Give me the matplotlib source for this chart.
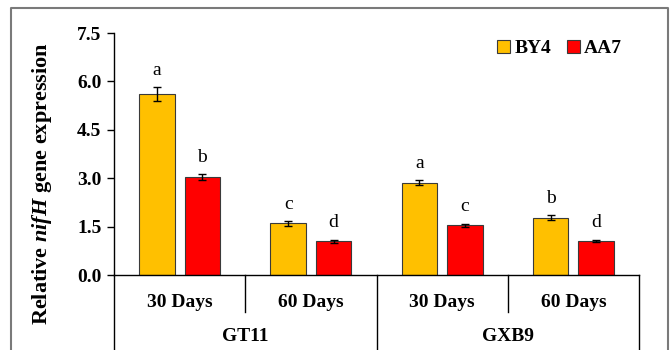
import matplotlib.pyplot as plt
import numpy as np

# --- Data
groups = ["GT11", "GXB9"]
days = ["30 Days", "60 Days", "30 Days", "60 Days"]
strains = ["BY4", "AA7"]
by4 = [5.60, 1.60, 2.86, 1.78]
by4_err = [0.22, 0.07, 0.08, 0.08]
aa7 = [3.03, 1.04, 1.54, 1.05]
aa7_err = [0.10, 0.05, 0.05, 0.04]
by4_letters = ["a", "c", "a", "b"]
aa7_letters = ["b", "d", "c", "d"]

yellow = "#FFC000"
red = "#FF0000"
serif = "Liberation Serif"
plt.rcParams["font.family"] = serif
plt.rcParams["mathtext.fontset"] = "custom"
plt.rcParams["mathtext.rm"] = serif
plt.rcParams["mathtext.bfit"] = f"{serif}:italic:bold"

fig = plt.figure(figsize=(6.7, 3.5), dpi=100)
ax = fig.add_axes([114 / 670, 1 - 275 / 350, 525 / 670, 242 / 350])

x = np.arange(len(days))
w = 0.27
off = 0.173
eb = dict(ecolor="black", elinewidth=1, capsize=3, capthick=1)
ax.bar(x - off, by4, w, yerr=by4_err, color=yellow, edgecolor="#3a3a3a",
       linewidth=0.8, error_kw=eb, label=strains[0])
ax.bar(x + off, aa7, w, yerr=aa7_err, color=red, edgecolor="#3a3a3a",
       linewidth=0.8, error_kw=eb, label=strains[1])

# significance letters
for xi, v, e, t in zip(x - off, by4, by4_err, by4_letters):
    ax.annotate(t, (xi, v + e), xytext=(0, 6), textcoords="offset points",
                ha="center", va="bottom", fontsize=14)
for xi, v, e, t in zip(x + off, aa7, aa7_err, aa7_letters):
    ax.annotate(t, (xi, v + e), xytext=(0, 6), textcoords="offset points",
                ha="center", va="bottom", fontsize=14)

ax.set_xlim(-0.5, 3.5)
ax.set_ylim(0, 7.5)
ax.set_yticks(np.arange(0, 7.6, 1.5))
ax.set_yticklabels([f"{t:.1f}" for t in np.arange(0, 7.6, 1.5)],
                   fontsize=14, fontweight="bold")
ax.tick_params(axis="y", direction="out", length=5, width=1, pad=4)
ax.set_xticks([])
for s in ["top", "right"]:
    ax.spines[s].set_visible(False)
ax.spines["left"].set_linewidth(1)
ax.spines["bottom"].set_linewidth(1)

ax.set_ylabel(r"Relative $\bfit{nifH}$ gene expression", fontsize=16,
              fontweight="bold")
ax.yaxis.set_label_coords(-0.115, 0.376)

# two-level category axis
tr = ax.get_xaxis_transform()
for xi, d in zip(x, days):
    ax.text(xi, -0.112, d, transform=tr, ha="center", va="center",
            fontsize=14, fontweight="bold")
for gi, g in enumerate(groups):
    ax.text(0.5 + 2 * gi, -0.256, g, transform=tr, ha="center", va="center",
            fontsize=14, fontweight="bold")
for xd in [0.5, 2.5]:
    ax.plot([xd, xd], [0, -0.153], transform=tr, color="black", lw=1, clip_on=False)
for xd in [-0.5, 1.5, 3.5]:
    ax.plot([xd, xd], [0, -0.32], transform=tr, color="black", lw=1, clip_on=False)

leg = ax.legend(loc="upper right", bbox_to_anchor=(0.99, 1.02), ncol=2, frameon=False,
                prop={"family": serif, "weight": "bold", "size": 14},
                handlelength=0.7, handleheight=0.7, handletextpad=0.2,
                columnspacing=0.8, borderaxespad=0.2)

# outer grey frame (bottom cut off)
fig.add_artist(plt.Line2D([11 / 670, 11 / 670, 668 / 670, 668 / 670],
                          [0, 1 - 8 / 350, 1 - 8 / 350, 0],
                          color="#7a7a7a", lw=1.5))

fig.savefig("out.png", dpi=100)
